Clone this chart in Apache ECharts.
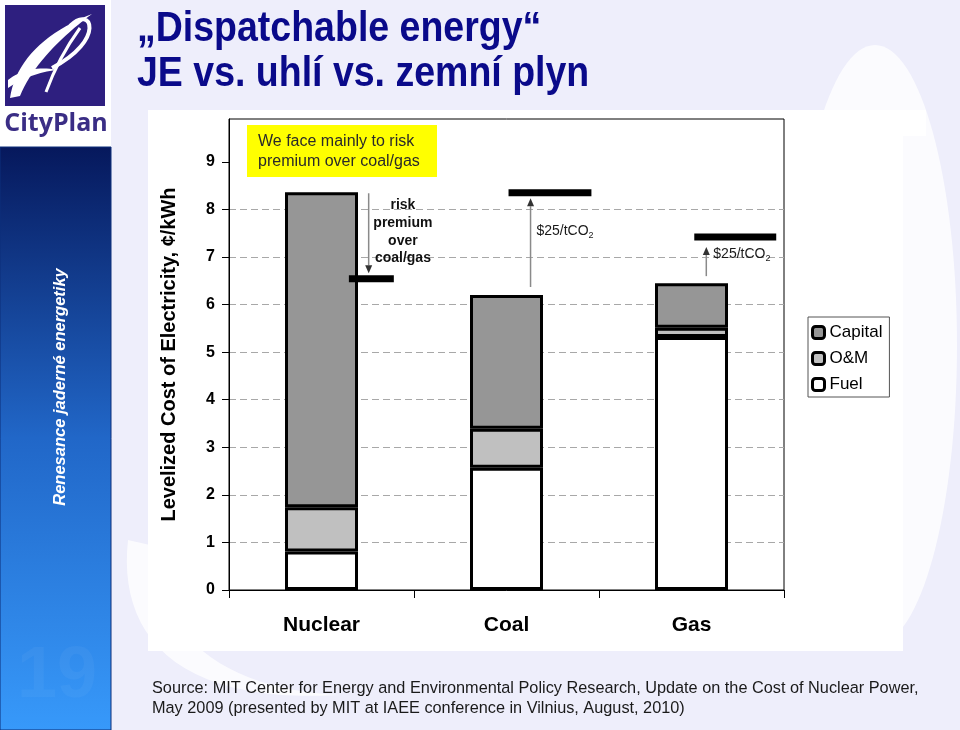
<!DOCTYPE html>
<html><head><meta charset="utf-8">
<script src="https://cdn.jsdelivr.net/npm/echarts@6/dist/echarts.min.js"></script>
<style>html,body{margin:0;padding:0;background:#eeeefb}#c{width:960px;height:730px}</style>
</head><body><div id="c"></div>
<script>
// ---- data ----
const categories = ['Nuclear', 'Coal', 'Gas'];
const fuel = [0.81, 2.57, 5.32];
const om = [0.93, 0.82, 0.19];
const capital = [6.62, 2.81, 0.94];
const markLevels = [6.54, 8.35, 7.42];          // risk-premium level / with $25/tCO2
const markLabels = ['risk\npremium\nover\ncoal/gas', '{a|$25/tCO}{s|2}', '{a|$25/tCO}{s|2}'];
const yTicks = [0, 1, 2, 3, 4, 5, 6, 7, 8, 9];
const legendOrder = ['Capital', 'O&M', 'Fuel'];
const totals = fuel.map((v, i) => v + om[i] + capital[i]);

// ---- styling of annotations (fractions of category band / pixel offsets) ----
const annotStyle = [
  { l0: 0.148, l1: 0.391, ax: 0.255, dir: 'down', startGap: -1, tipGap: 2, lx: 0.44, ldy: -47, align: 'center' },
  { l0: 0.011, l1: 0.459, ax: 0.130, dir: 'up', startGap: 8, tipGap: 2, lx: 0.162, ldy: 38.5, align: 'left' },
  { l0: 0.015, l1: 0.458, ax: 0.080, dir: 'up', startGap: 7, tipGap: 6.5, lx: 0.118, ldy: 17, align: 'left' }
];

const FONT = "'Liberation Sans', Arial, sans-serif";
const chart = echarts.init(document.getElementById('c'), null, { renderer: 'canvas' });

// sample cubic bezier segments into polygon points (decoration shapes only)
function bez(p0, p1, p2, p3, n) {
  const pts = [];
  for (let k = 0; k <= n; k++) {
    const t = k / n, u = 1 - t;
    pts.push([
      u*u*u*p0[0] + 3*u*u*t*p1[0] + 3*u*t*t*p2[0] + t*t*t*p3[0],
      u*u*u*p0[1] + 3*u*u*t*p1[1] + 3*u*t*t*p2[1] + t*t*t*p3[1]
    ]);
  }
  return pts;
}
function crescent(a, b) { return a.concat(b); }

function renderAnnot(params, api) {
  const i = api.value(0);
  const lvl = api.value(1);
  const c = api.coord([i, lvl]);
  const band = api.size([1, 0])[0];
  const s = annotStyle[i];
  const topY = api.coord([i, totals[i]])[1];
  const half = 3.5;
  const ax = c[0] + band * s.ax;
  let y1, tip, dirSign;
  if (s.dir === 'down') { y1 = topY - s.startGap; tip = c[1] - half - s.tipGap; dirSign = 1; }
  else { y1 = topY - s.startGap; tip = c[1] + half + s.tipGap; dirSign = -1; }
  const headLen = 8, headW = 3.5;
  const base = tip - dirSign * headLen;
  const children = [
    { type: 'rect', shape: { x: c[0] + band * s.l0, y: c[1] - half, width: band * (s.l1 - s.l0), height: half * 2 }, style: { fill: '#000' } },
    { type: 'line', shape: { x1: ax, y1: y1, x2: ax, y2: base }, style: { stroke: '#8a8a8a', lineWidth: 1.5 } },
    { type: 'polygon', shape: { points: [[ax, tip], [ax - headW, base], [ax + headW, base]] }, style: { fill: '#333' } },
    {
      type: 'text', x: c[0] + band * s.lx, y: c[1] + s.ldy,
      style: s.align === 'center' ? {
        text: markLabels[i], fontFamily: FONT, fontSize: 14, fontWeight: 'bold', lineHeight: 17.7,
        fill: '#111', align: 'center', verticalAlign: 'middle'
      } : {
        text: markLabels[i], fontFamily: FONT, align: 'left', verticalAlign: 'middle', fill: '#222',
        rich: { a: { fontSize: 14, fontFamily: FONT, lineHeight: 18, fill: '#1a1a1a' }, s: { fontSize: 9, fontFamily: FONT, lineHeight: 11, verticalAlign: 'bottom', fill: '#1a1a1a' } }
      }
    }
  ];
  return { type: 'group', children };
}

const barCommon = {
  type: 'bar', stack: 'cost', barWidth: 73,
  emphasis: { disabled: true }
};

const option = {
  animation: false,
  textStyle: { fontFamily: FONT },
  grid: { left: 229, right: 176, top: 119, bottom: 140, show: true, borderColor: '#000', borderWidth: 1, backgroundColor: 'transparent' },
  legend: {
    data: legendOrder, orient: 'vertical', left: 808, top: 317,
    itemWidth: 12, itemHeight: 12, itemGap: 9, icon: 'roundRect',
    padding: [7, 7, 4, 3], borderColor: '#555', borderWidth: 1, backgroundColor: '#fff',
    textStyle: { fontSize: 17, color: '#000', fontFamily: FONT, padding: [0, 0, 0, 0] },
    itemStyle: { borderColor: '#000', borderWidth: 3 },
    selectedMode: false
  },
  xAxis: {
    type: 'category', data: categories,
    axisLine: { lineStyle: { color: '#000', width: 1 } },
    axisTick: { show: true, alignWithLabel: false, length: 8, lineStyle: { color: '#000' } },
    axisLabel: { fontSize: 21, fontWeight: 'bold', color: '#000', margin: 25, fontFamily: FONT },
    splitLine: { show: false }
  },
  yAxis: {
    type: 'value', min: 0, max: 9.9, interval: 1,
    name: 'Levelized Cost of Electricity, \u00a2/kWh', nameLocation: 'middle', nameGap: 50, nameRotate: 90,
    nameTextStyle: { fontSize: 20, fontWeight: 'bold', color: '#000', fontFamily: FONT },
    axisLine: { show: true, lineStyle: { color: '#000', width: 1 } },
    axisTick: { show: true, length: 7, inside: false, customValues: yTicks, lineStyle: { color: '#000' } },
    axisLabel: { fontSize: 16, fontWeight: 'bold', color: '#000', margin: 14, customValues: yTicks, fontFamily: FONT },
    splitLine: { show: true, showMinLine: false, showMaxLine: false, lineStyle: { color: '#a8a8a8', width: 1, type: [7, 4] } }
  },
  series: [
    Object.assign({}, barCommon, { name: 'Fuel', data: fuel, itemStyle: { color: '#ffffff', borderColor: '#000', borderWidth: 3 } }),
    Object.assign({}, barCommon, { name: 'O&M', data: om, itemStyle: { color: '#c0c0c0', borderColor: '#000', borderWidth: 3 } }),
    Object.assign({}, barCommon, { name: 'Capital', data: capital, itemStyle: { color: '#969696', borderColor: '#000', borderWidth: 3 } }),
    {
      type: 'custom', name: 'annot', z: 5, silent: true,
      data: markLevels.map((v, i) => [i, v]),
      renderItem: renderAnnot
    }
  ],
  graphic: { elements: [
    // slide watermark
    { type: 'ellipse', z: -20, shape: { cx: 875, cy: 345, rx: 82, ry: 300 }, style: { fill: 'rgba(255,255,255,0.75)' } },
    { type: 'rect', z: -20, shape: { x: 790, y: 110, width: 136, height: 26 }, style: { fill: 'rgba(255,255,255,0.85)' } },
    { type: 'polygon', z: -20, shape: { points: crescent(bez([128, 540], [118, 630], [170, 705], [340, 695], 24), bez([340, 695], [240, 690], [160, 650], [150, 545], 24)) }, style: { fill: 'rgba(255,255,255,0.75)' } },
    // chart image background
    { type: 'rect', z: -15, shape: { x: 148, y: 110, width: 755, height: 541 }, style: { fill: '#fff' } },
    // logo area
    { type: 'rect', z: -15, shape: { x: 0, y: 0, width: 111, height: 147 }, style: { fill: '#fff' } },
    { type: 'rect', z: -14, shape: { x: 5, y: 5, width: 100, height: 101 }, style: { fill: '#2e1f7f' } },
    { type: 'polygon', z: -13, shape: { points: crescent(bez([10, 98], [15, 62], [45, 32], [92, 14], 20), bez([92, 14], [62, 36], [32, 66], [20, 96], 20)) }, style: { fill: '#fff' } },
    { type: 'bezierCurve', z: -13, shape: { x1: 70, y1: 26, cpx1: 92, cpy1: 4, cpx2: 106, cpy2: 40, x2: 52, y2: 68 }, style: { stroke: '#fff', lineWidth: 4, fill: null } },
    { type: 'bezierCurve', z: -13, shape: { x1: 46, y1: 92, cpx1: 54, cpy1: 70, cpx2: 64, cpy2: 50, x2: 80, y2: 28 }, style: { stroke: '#fff', lineWidth: 3, fill: null } },
    { type: 'polygon', z: -13, shape: { points: crescent(bez([8, 80], [20, 70], [40, 66], [56, 70], 16), bez([56, 70], [40, 72], [22, 78], [8, 88], 16)) }, style: { fill: '#fff' } },
    { type: 'text', z: -13, x: 56, y: 124, style: { text: 'CityPlan', fontFamily: "'Open Sans', sans-serif", fontWeight: 'bold', fontSize: 25, fill: '#3a2d85', align: 'center', verticalAlign: 'middle' } },
    // sidebar
    { type: 'rect', z: -15, shape: { x: 0, y: 147, width: 111, height: 583 }, style: {
      fill: new echarts.graphic.LinearGradient(0, 0, 0, 1, [{ offset: 0, color: '#06185c' }, { offset: 0.5, color: '#2167c8' }, { offset: 1, color: '#3799fa' }]),
      stroke: '#0d2f7a', lineWidth: 1 } },
    { type: 'text', z: -14, x: 57, y: 677, style: { text: '19', fontFamily: FONT, fontWeight: 'bold', fontSize: 72, fill: 'rgba(255,255,255,0.04)', align: 'center', verticalAlign: 'middle' } },
    { type: 'text', z: -14, x: 60, y: 387, rotation: Math.PI / 2, style: { text: 'Renesance jaderné energetiky', fontFamily: FONT, fontWeight: 'bold', fontStyle: 'italic', fontSize: 16.5, fill: '#fff', align: 'center', verticalAlign: 'middle' } },
    // slide title
    { type: 'text', z: -14, x: 137, y: 29, scaleY: 1.12, style: { text: '\u201EDispatchable energy\u201C', fontFamily: FONT, fontWeight: 'bold', fontSize: 37.5, fill: '#0a0a8a', align: 'left', verticalAlign: 'middle' } },
    { type: 'text', z: -14, x: 137, y: 74, scaleY: 1.12, style: { text: 'JE vs. uhlí vs. zemní plyn', fontFamily: FONT, fontWeight: 'bold', fontSize: 37.5, fill: '#0a0a8a', align: 'left', verticalAlign: 'middle' } },
    // yellow note
    { type: 'rect', z: 10, shape: { x: 247, y: 125, width: 190, height: 52 }, style: { fill: '#ffff00' } },
    { type: 'text', z: 11, x: 258, y: 152, style: { text: 'We face mainly to risk\npremium over coal/gas', fontFamily: FONT, fontSize: 16, lineHeight: 20, fill: '#2a2a2a', align: 'left', verticalAlign: 'middle' } },
    // source
    { type: 'text', z: -14, x: 152, y: 699, style: { text: 'Source: MIT Center for Energy and Environmental Policy Research, Update on the Cost of Nuclear Power,\nMay 2009 (presented by MIT at IAEE conference in Vilnius, August, 2010)', fontFamily: FONT, fontSize: 16.3, lineHeight: 20, fill: '#1a1a1a', align: 'left', verticalAlign: 'middle' } }
  ] }
};
chart.setOption(option);
</script>
</body></html>
